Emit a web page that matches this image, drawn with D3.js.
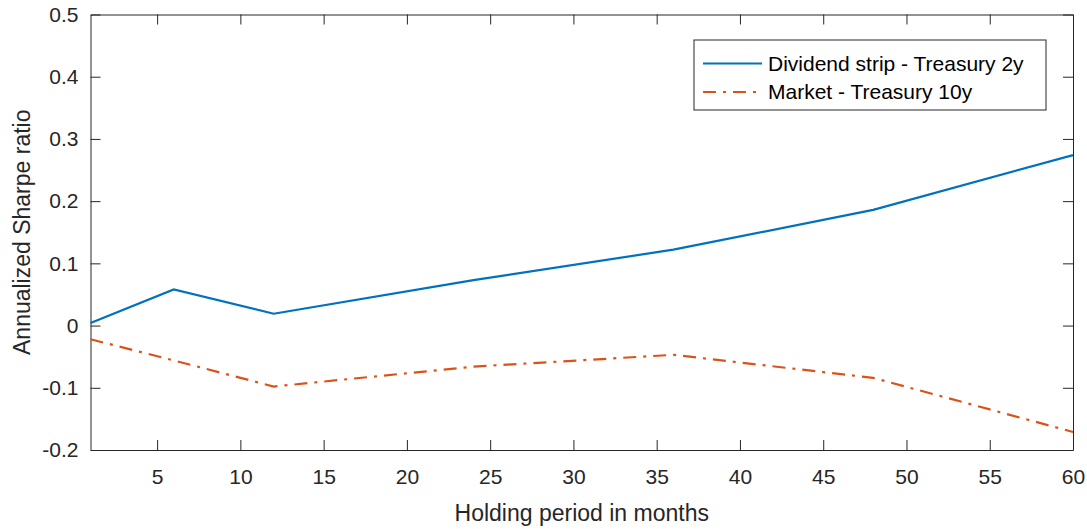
<!DOCTYPE html>
<html>
<head>
<meta charset="UTF-8" />
<script src="https://d3js.org/d3.v7.min.js"></script>
<style>
  body { margin: 0; background: #fff; }
  svg { display: block; font-family: "Liberation Sans", Arial, sans-serif; }
</style>
</head>
<body>
<div id="chart"></div>
<script>
  // holding periods (months) and the two Sharpe ratio series
  const months = [1, 6, 12, 24, 36, 48, 60];
  const dividendStrip = [0.004, 0.058, 0.019, 0.073, 0.122, 0.186, 0.274];
  const market = [-0.022, -0.056, -0.098, -0.066, -0.047, -0.084, -0.171];
  const xTicks = [5, 10, 15, 20, 25, 30, 35, 40, 45, 50, 55, 60];
  const yTicks = [-0.2, -0.1, 0, 0.1, 0.2, 0.3, 0.4, 0.5];
  const seriesNames = ["Dividend strip - Treasury 2y", "Market - Treasury 10y"];

  const W = 1087, H = 529;
  const margin = { top: 14.5, right: 14, bottom: 79, left: 90.5 };
  const width = W - margin.left - margin.right;
  const height = H - margin.top - margin.bottom;

  const svg = d3.select("#chart").append("svg")
    .attr("width", W).attr("height", H);
  const g = svg.append("g")
    .attr("transform", `translate(${margin.left},${margin.top})`);

  const x = d3.scaleLinear().domain([1, 60]).range([0, width]);
  const y = d3.scaleLinear().domain([-0.2, 0.5]).range([height, 0]);
  const axisColor = "#262626";

  // plain hyphen for negatives, like the original
  const fmt = (d) => (d === 0 ? "0" : d3.format(".1f")(d).replace("\u2212", "-"));

  // bottom / left axes with inward ticks (MATLAB style)
  const xAxis = g.append("g").attr("transform", `translate(0,${height})`)
    .call(d3.axisBottom(x).tickValues(xTicks).tickSizeInner(-10).tickSizeOuter(0).tickPadding(19));
  const yAxis = g.append("g")
    .call(d3.axisLeft(y).tickValues(yTicks).tickFormat(fmt).tickSizeInner(-10).tickSizeOuter(0).tickPadding(12));
  // top / right mirrored ticks
  const xTop = g.append("g")
    .call(d3.axisTop(x).tickValues(xTicks).tickSizeInner(-10).tickSizeOuter(0).tickFormat(""));
  const yRight = g.append("g").attr("transform", `translate(${width},0)`)
    .call(d3.axisRight(y).tickValues(yTicks).tickSizeInner(-10).tickSizeOuter(0).tickFormat(""));

  [xAxis, yAxis, xTop, yRight].forEach((a) => {
    a.select(".domain").attr("stroke", axisColor).attr("stroke-width", 1);
    a.selectAll(".tick line").attr("stroke", axisColor).attr("stroke-width", 1);
    a.selectAll("text").attr("fill", axisColor).style("font-size", "21px");
  });

  // lines
  const line = (vals) => d3.line().x((d, i) => x(months[i])).y((d) => y(d))(vals);

  g.append("path").attr("d", line(dividendStrip))
    .attr("fill", "none").attr("stroke", "#0072BD").attr("stroke-width", 2.2);
  g.append("path").attr("d", line(market))
    .attr("fill", "none").attr("stroke", "#D95319").attr("stroke-width", 2.2)
    .attr("stroke-dasharray", "13,7,3,7");

  // axis labels
  g.append("text").attr("x", width / 2).attr("y", height + 71)
    .attr("text-anchor", "middle").attr("fill", axisColor)
    .style("font-size", "23px").text("Holding period in months");
  g.append("text")
    .attr("transform", `translate(${-60.5},${height / 2}) rotate(-90)`)
    .attr("text-anchor", "middle").attr("fill", axisColor)
    .style("font-size", "23px").text("Annualized Sharpe ratio");

  // legend
  const lg = svg.append("g").attr("transform", "translate(694,40)");
  lg.append("rect").attr("width", 352).attr("height", 70)
    .attr("fill", "#fff").attr("stroke", axisColor).attr("stroke-width", 1);
  const styles = [
    { color: "#0072BD", dash: null },
    { color: "#D95319", dash: "13,7,3,7" }
  ];
  seriesNames.forEach((name, i) => {
    const cy = 23.5 + i * 28.5;
    lg.append("line").attr("x1", 9).attr("x2", 68).attr("y1", cy).attr("y2", cy)
      .attr("stroke", styles[i].color).attr("stroke-width", 2.2)
      .attr("stroke-dasharray", styles[i].dash);
    lg.append("text").attr("x", 74).attr("y", cy).attr("dy", "0.35em")
      .attr("fill", "#000").style("font-size", "21px").text(name);
  });
</script>
</body>
</html>
